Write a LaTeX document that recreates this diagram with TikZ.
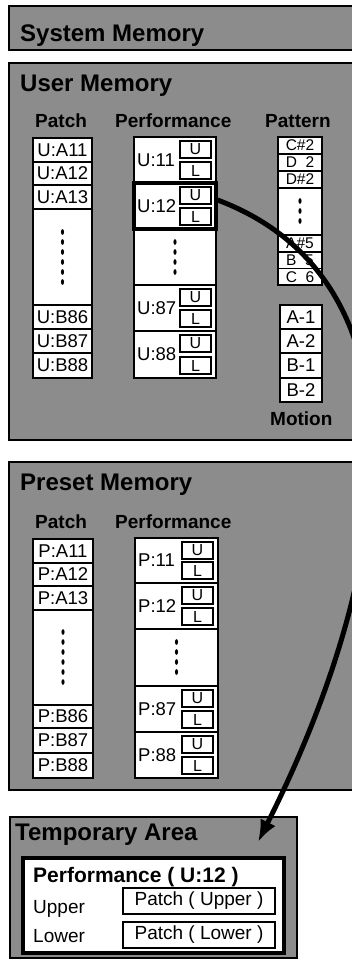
\documentclass[tikz,border=0pt]{standalone}
\usepackage{fontspec}
\setmainfont{Liberation Sans}
\usetikzlibrary{arrows.meta}
\definecolor{bg}{gray}{0.55}
\newcommand{\cellfont}{\fontsize{18.5}{20}\selectfont}
\newcommand{\cellbox}[6]{\node[cell, minimum width={(#4-#2)*1pt}, minimum height={(#5-#3)*1pt}] (#1) at ({(#2+#4)/2},{(#3+#5)/2}) {#6};}
\newcommand{\perfrow}[7][]{%
  \node[cell, #1, minimum width={(#5-#3)*1pt}, minimum height={(#6-#4)*1pt}] (#2) at ({(#3+#5)/2},{(#4+#6)/2}) {};
  \node[anchor=west, inner sep=0pt, font=\cellfont] (#2lab) at ({#3+3},{(#4+#6)/2}) {#7};
  \node[ubox] (#2u) at ({#5-5-15.5},{#4+12.5}) {U};
  \node[ubox] (#2d) at ({#5-5-15.5},{#6-12.5}) {L};}
\begin{document}
\begin{tikzpicture}[x=1pt,y=-1pt,
  panel/.style={draw=black, line width=2pt, fill=bg},
  cell/.style={draw=black, line width=1.3pt, fill=white, inner sep=0pt, font=\cellfont},
  pcell/.style={cell, font=\fontsize{15.5}{16}\selectfont},
  ubox/.style={draw=black, line width=1.1pt, fill=white, inner sep=0pt, minimum width=31pt, minimum height=17pt, font=\fontsize{16}{17}\selectfont},
  title/.style={anchor=base west, inner sep=0pt, font=\bfseries\fontsize{24}{26}\selectfont},
  head/.style={anchor=base west, inner sep=0pt, font=\bfseries\fontsize{19}{20}\selectfont},
  plain/.style={anchor=base west, inner sep=0pt, font=\fontsize{19}{20}\selectfont},
  arrowline/.style={line width=5pt, -{Latex[length=22pt,width=17pt]}}]
\useasboundingbox (0,0) rectangle (352,968);
\fill[white] (0,0) rectangle (352,968);

% System memory
\draw[panel] (9,6) rectangle (362,50);
\node[title] (sys) at (20,42) {System Memory};

% User memory
\draw[panel] (9,63) rectangle (362,440);
\node[title] (user) at (20,92) {User Memory};
\node[head] (hpatch) at (35,128) {Patch};
\node[head] (hperf) at (115,128) {Performance};
\node[head] (hpatt) at (265,128) {Pattern};

\cellbox{ua11}{33}{138}{92}{162}{U:A11}
\cellbox{ua12}{33}{162}{92}{185}{U:A12}
\cellbox{ua13}{33}{185}{92}{209}{U:A13}
\cellbox{udots}{33}{209}{92}{305}{}
\cellbox{ub86}{33}{305}{92}{329}{U:B86}
\cellbox{ub87}{33}{329}{92}{353}{U:B87}
\cellbox{ub88}{33}{353}{92}{378}{U:B88}
\foreach \y in {232,242,252,262,272,282} \fill (62.5,\y) ellipse [x radius=1.6pt, y radius=2.8pt];

\perfrow{u11}{134}{137}{216}{183}{U:11}
\cellbox{upd}{134}{229}{216}{285}{}
\perfrow{u87}{134}{285}{216}{331}{U:87}
\perfrow{u88}{134}{331}{216}{378}{U:88}
\perfrow[line width=3.2pt]{u12}{134}{183}{216}{229}{U:12}
\foreach \y in {242,252,262,272} \fill (175,\y) ellipse [x radius=1.6pt, y radius=2.8pt];

\tikzset{every node/.append style={}}
\node[pcell, minimum width=44pt, minimum height=17pt] (pc2) at (300,145.5) {C\#2};
\node[pcell, minimum width=44pt, minimum height=17pt] (pd2) at (300,162.5) {D\ \ 2};
\node[pcell, minimum width=44pt, minimum height=17pt] (pds2) at (300,179.5) {D\#2};
\cellbox{pdots}{278}{188}{322}{235}{}
\node[pcell, minimum width=44pt, minimum height=17pt] (pas5) at (300,243.5) {A\#5};
\node[pcell, minimum width=44pt, minimum height=16.5pt] (pb5) at (300,260.25) {B\ \ 5};
\node[pcell, minimum width=44pt, minimum height=16.5pt] (pc6) at (300,276.75) {C\ \ 6};
\foreach \y in {201,211,221} \fill (300,\y) ellipse [x radius=1.6pt, y radius=2.8pt];

\cellbox{ma1}{280}{305}{322}{329}{A-1}
\cellbox{ma2}{280}{329}{322}{353}{A-2}
\cellbox{mb1}{280}{353}{322}{378}{B-1}
\cellbox{mb2}{280}{378}{322}{402}{B-2}
\node[head] (hmot) at (270,425) {Motion};

% Preset memory
\draw[panel] (9,462) rectangle (362,790);
\node[title] (preset) at (20,490) {Preset Memory};
\node[head] (hpatch2) at (35,528) {Patch};
\node[head] (hperf2) at (115,528) {Performance};

\cellbox{pa11}{33}{539}{93}{563}{P:A11}
\cellbox{pa12}{33}{563}{93}{586}{P:A12}
\cellbox{pa13}{33}{586}{93}{610}{P:A13}
\cellbox{ppdots}{33}{610}{93}{705}{}
\cellbox{pb86}{33}{705}{93}{728}{P:B86}
\cellbox{pb87}{33}{728}{93}{753}{P:B87}
\cellbox{pb88}{33}{753}{93}{778}{P:B88}
\foreach \y in {632,642,652,662,672,682} \fill (63,\y) ellipse [x radius=1.6pt, y radius=2.8pt];

\perfrow{p11}{135}{538}{218}{583}{P:11}
\perfrow{p12}{135}{583}{218}{629}{P:12}
\cellbox{pfd}{135}{629}{218}{686}{}
\perfrow{p87}{135}{686}{218}{732}{P:87}
\perfrow{p88}{135}{732}{218}{778}{P:88}
\foreach \y in {642,652,662,672} \fill (176.5,\y) ellipse [x radius=1.6pt, y radius=2.8pt];

% Temporary area
\draw[panel] (10,817) rectangle (297,958);
\node[title] (temp) at (15,840) {Temporary Area};
\draw[draw=black, line width=4pt, fill=white] (23,858) rectangle (284,953);
\node[anchor=base west, inner sep=0pt, font=\bfseries\fontsize{21}{22}\selectfont] (tperf) at (33,882) {Performance ( U:12 )};
\node[plain] (tup) at (33,913) {Upper};
\node[plain] (tlo) at (33,942) {Lower};
\cellbox{tpu}{123}{888}{275}{914}{\fontsize{19}{20}\selectfont Patch ( Upper )}
\cellbox{tpl}{123}{922}{275}{948}{\fontsize{19}{20}\selectfont Patch ( Lower )}

\coordinate (tip) at (258,842);
\draw[arrowline] ([yshift=6pt]u12.east) .. controls (430,280) and (400,560) .. (tip);
\end{tikzpicture}
\end{document}
